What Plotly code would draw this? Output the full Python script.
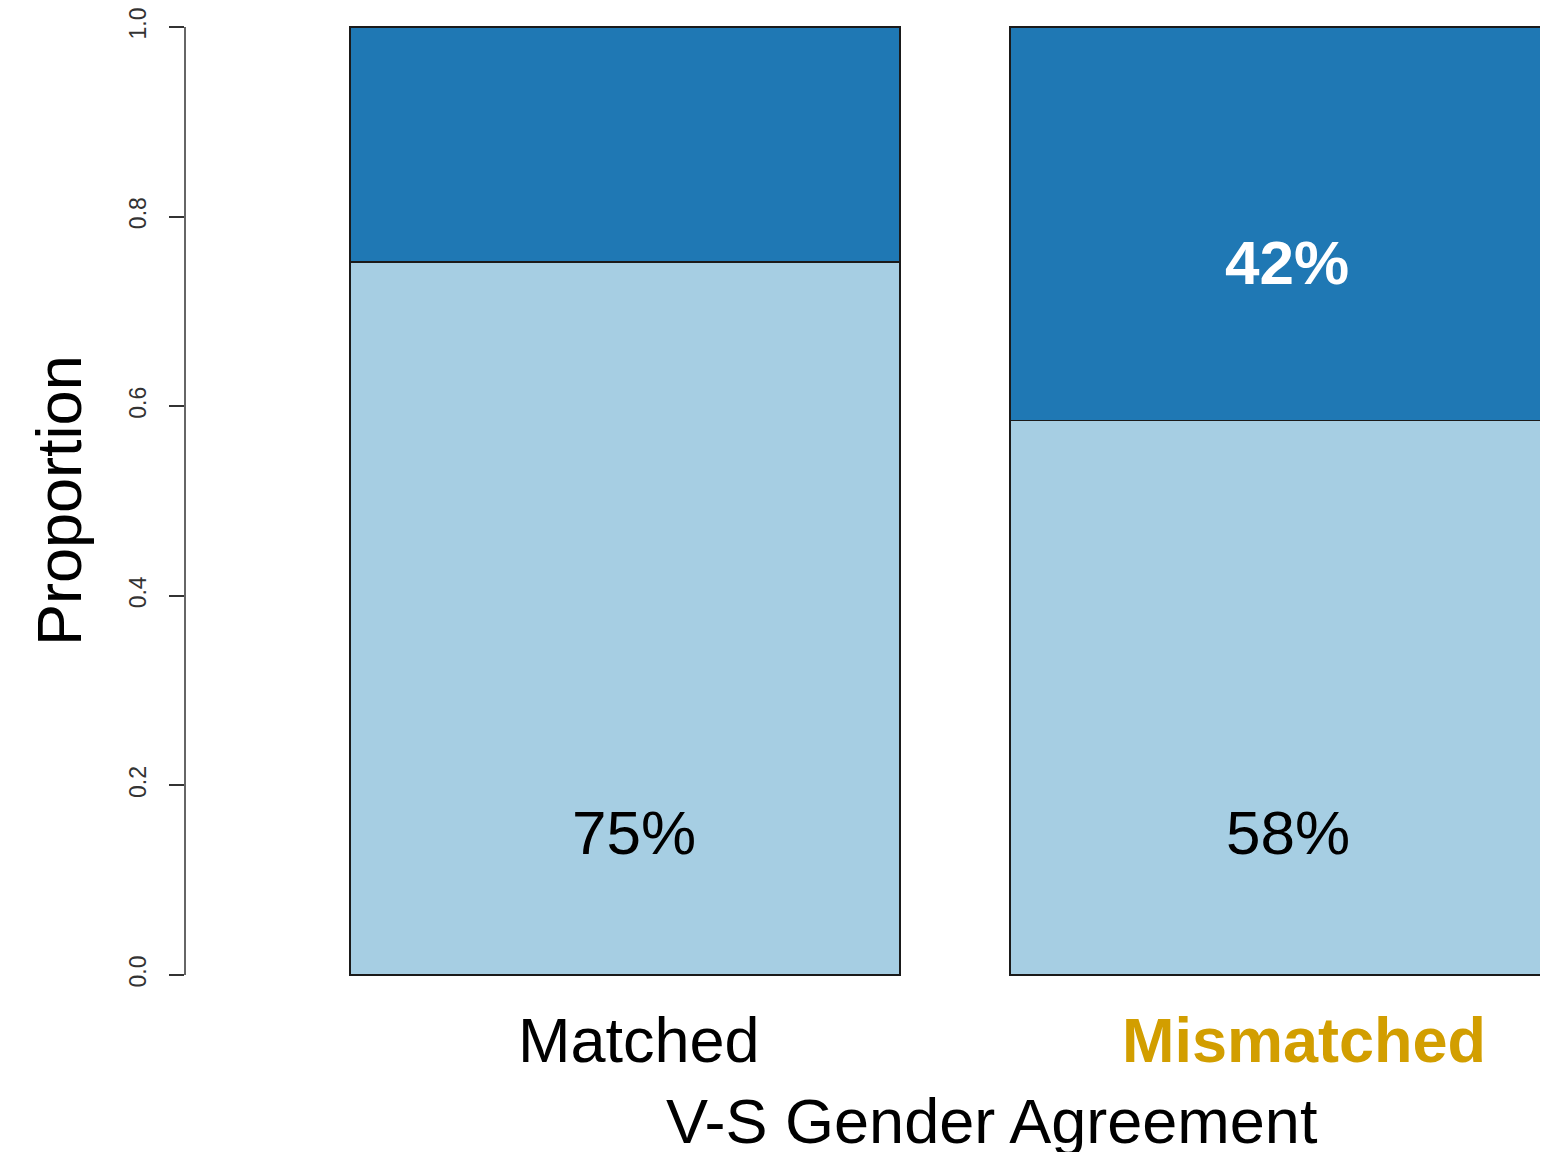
import plotly.graph_objects as go

# ---- data ----
categories = ["Matched", "Mismatched"]
lower_share = [0.752, 0.585]     # light blue segment
upper_share = [0.248, 0.415]     # dark blue segment
lower_labels = ["75%", "58%"]
upper_labels = ["", "42%"]
y_ticks = [0.0, 0.2, 0.4, 0.6, 0.8, 1.0]
y_tick_text = ["0.0", "0.2", "0.4", "0.6", "0.8", "1.0"]

# page offset of the plot div (default body margin)
OFF = 8
W, H = 1540, 1144
ML, MT = 185 - OFF, 0
PW = 1548 - 185
PH = 1013 - OFF
MR = W - ML - PW
MB = H - MT - PH
FONT = "Liberation Sans, Arial, sans-serif"

def px_x(p):
    return (p - OFF - ML) / PW

def px_y(p):
    return (MT + PH - (p - OFF)) / PH

fig = go.Figure()
fig.add_trace(go.Bar(x=categories, y=lower_share, width=1 / 1.2,
                     marker=dict(color="#A6CEE3", line=dict(color="#1a1a1a", width=1.3)),
                     hoverinfo="skip"))
fig.add_trace(go.Bar(x=categories, y=upper_share, width=1 / 1.2,
                     marker=dict(color="#1F78B4", line=dict(color="#1a1a1a", width=1.3)),
                     hoverinfo="skip"))

annotations = []
# percentage labels inside bars
for i, (lo, up) in enumerate(zip(lower_labels, upper_labels)):
    annotations.append(dict(x=categories[i], y=0.148, xref="x", yref="y", text=lo,
                            showarrow=False, xshift=[9, 3][i], yshift=2,
                            xanchor="center", yanchor="middle",
                            font=dict(family=FONT, size=62, color="black")))
    if up:
        annotations.append(dict(x=categories[i], y=0.750, xref="x", yref="y",
                                text="<b>" + up + "</b>", showarrow=False, xshift=2, yshift=2,
                                xanchor="center", yanchor="middle",
                                font=dict(family=FONT, size=62, color="white")))

# category labels
annotations.append(dict(x=categories[0], y=px_y(1040), xref="x", yref="paper",
                        text=categories[0], showarrow=False, xshift=14, yshift=0,
                        xanchor="center", yanchor="middle",
                        font=dict(family=FONT, size=63, color="black")))
annotations.append(dict(x=categories[1], y=px_y(1040), xref="x", yref="paper",
                        text="<b>" + categories[1] + "</b>", showarrow=False, xshift=19, yshift=0,
                        xanchor="center", yanchor="middle",
                        font=dict(family=FONT, size=63, color="#D29E00")))
# axis titles
annotations.append(dict(x=px_x(992), y=px_y(1120), xref="paper", yref="paper",
                        text="V-S Gender Agreement", showarrow=False, yshift=-1,
                        xanchor="center", yanchor="middle",
                        font=dict(family=FONT, size=63, color="black")))
annotations.append(dict(x=px_x(62), y=0.5, xref="paper", yref="y",
                        text="Proportion", showarrow=False, textangle=-90, xshift=-3,
                        xanchor="center", yanchor="middle",
                        font=dict(family=FONT, size=63, color="black")))

fig.update_layout(
    width=W, height=H,
    margin=dict(l=ML, r=MR, t=MT, b=MB, pad=0),
    barmode="stack",
    showlegend=False,
    plot_bgcolor="white", paper_bgcolor="white",
    annotations=annotations,
    shapes=[dict(type="line", xref="paper", yref="y", x0=0, x1=0, y0=0, y1=1,
                 line=dict(color="#333333", width=1.5))],
    xaxis=dict(range=[(ML - (625 - OFF)) / 660, (ML + PW - (625 - OFF)) / 660],
               showticklabels=False, showgrid=False,
               zeroline=False, showline=False, ticks=""),
    yaxis=dict(range=[(975 - 1013) / 948, (975 - OFF) / 948], tickvals=y_ticks,
               ticktext=y_tick_text, tickangle=-90, ticks="outside", ticklen=15,
               tickwidth=1.5, tickcolor="#333333", showgrid=False, zeroline=False,
               showline=False, ticklabelstandoff=14, ticklabeloverflow="allow",
               tickfont=dict(family=FONT, size=23, color="#333333")),
)

fig.write_html("out.html")
